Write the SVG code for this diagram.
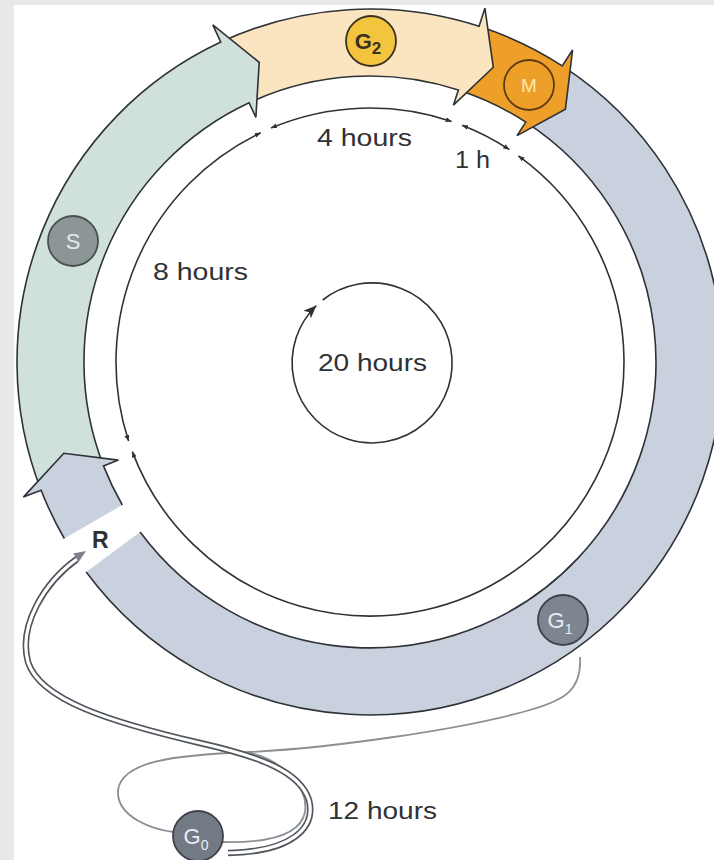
<svg xmlns="http://www.w3.org/2000/svg" width="714" height="860" viewBox="0 0 714 860">
<defs>
<style>
.band{stroke:#2e3236;stroke-width:1.6;stroke-linejoin:miter}
.tl{fill:none;stroke:#2e3236;stroke-width:1.6}
.lbl{font-family:"Liberation Sans",Arial,sans-serif;font-size:23px;fill:#2f3235}
.cl{font-family:"Liberation Sans",Arial,sans-serif;text-anchor:middle}
.thin{fill:none;stroke:#8a9096;stroke-width:1.8}
</style>
<marker id="ta" viewBox="0 0 6 5" refX="6" refY="2.5" markerWidth="6" markerHeight="5" markerUnits="userSpaceOnUse" orient="auto-start-reverse">
<path d="M0,0 L6,2.5 L0,5 z" fill="#2e3236"/>
</marker>
<marker id="ca" viewBox="0 0 12 10" refX="12" refY="5" markerWidth="13" markerHeight="11" markerUnits="userSpaceOnUse" orient="auto">
<path d="M0,0 L12,5 L0,10 L3,5 z" fill="#2e3236"/>
</marker>
</defs>
<rect width="714" height="860" fill="#e8e8e8"/>
<rect x="14" y="5" width="700" height="855" fill="#ffffff"/>

<g id="ring">
<g id="G1-band"><path class="band" fill="#c9d0de" d="M140.1,532.1 A286,286 0 1 0 525.8,122.1 L562.2,65.9 A353,353 0 1 1 86.2,572"/></g>
<g id="M-band"><path class="band" fill="#ee9f2a" d="M479.1,26.3 A353,353 0 0 1 562.2,65.9 L572.6,50 L565.4,109.2 L517,135.6 L525.8,122.1 A286,286 0 0 0 458.4,90"/></g>
<g id="G2-band"><path class="band" fill="#fbe4c0" d="M220.8,42.1 A353,353 0 0 1 479.1,26.3 L484.9,8.2 L493.3,67.3 L453.4,105.2 L458.4,90 A286,286 0 0 0 249.1,102.8"/></g>
<g id="S-band"><path class="band" fill="#cfe1da" d="M41.1,490.2 A353,353 0 0 1 220.8,42.1 L212.8,24.9 L259.2,62.3 L255.9,117.3 L249.1,102.8 A286,286 0 0 0 103.5,465.9"/></g>
<g id="R-band"><path class="band" fill="#c9d0de" d="M64.3,538.5 A353,353 0 0 1 41.1,490.2 L23.4,497.1 L63.8,453.3 L118.4,460.1 L103.5,465.9 A286,286 0 0 0 122.3,505"/></g>
</g>

<g id="connectors">
<path class="tl" marker-start="url(#ta)" marker-end="url(#ta)" d="M518.4,155.9 A254,254 0 1 1 132.3,451.6"/>
<path class="tl" marker-start="url(#ta)" marker-end="url(#ta)" d="M128.6,441.1 A254,254 0 0 1 260.8,132.7"/>
<path class="tl" marker-start="url(#ta)" marker-end="url(#ta)" d="M271,128.1 A254,254 0 0 1 451.6,121.5"/>
<path class="tl" marker-start="url(#ta)" marker-end="url(#ta)" d="M462.1,125.3 A254,254 0 0 1 509.3,149.6"/>
<path class="tl" marker-end="url(#ca)" d="M322.7,300 A80,80 0 1 1 316.4,305.5"/>
<path class="thin" d="M580,657 C582,690 565,700 530,710 C460,730 330,748 250,752 C170,755 122,762 118,790 C116,818 155,830 174,832"/>
<path class="thin" d="M222,842 C262,843 300,838 305,812 C309,785 280,760 250,753"/>
<path fill="none" stroke="#50565c" stroke-width="6.5" d="M77,559 C45,582 18,625 28,662 C40,700 110,722 200,743 C262,757 300,772 309,800 C316,828 292,852 228,853"/>
<path fill="none" stroke="#ffffff" stroke-width="3.2" d="M77,559 C45,582 18,625 28,662 C40,700 110,722 200,743 C262,757 300,772 309,800 C316,828 292,852 226,853"/>
<path d="M86,551 L78.8,561.8 L73.3,553.4 z" fill="#7b8088"/>
</g>

<g id="S"><circle cx="73" cy="241" r="25" fill="#8d9696" stroke="#4a5050" stroke-width="1.8"/><text class="cl" x="73" y="249" font-size="22" fill="#e4eaea">S</text></g>
<g id="G2"><circle cx="371" cy="41" r="25" fill="#f3c43d" stroke="#3a3020" stroke-width="1.8"/><text class="cl" x="368" y="49" font-size="22" font-weight="bold" fill="#3a3020">G<tspan font-size="17" dy="5">2</tspan></text></g>
<g id="M"><circle cx="529" cy="85" r="25" fill="#ee9f2a" stroke="#5a3a10" stroke-width="1.8"/><text class="cl" x="529" y="92" font-size="19" fill="#fbe7ae">M</text></g>
<g id="G1"><circle cx="563" cy="620" r="25" fill="#7d8591" stroke="#3d4148" stroke-width="1.8"/><text class="cl" x="560" y="628" font-size="22" fill="#e8ecf0">G<tspan font-size="14" dy="6">1</tspan></text></g>
<g id="G0"><circle cx="198" cy="836" r="25" fill="#727a86" stroke="#3d4148" stroke-width="1.8"/><text class="cl" x="196" y="844" font-size="22" fill="#e8ecf0">G<tspan font-size="14" dy="6">0</tspan></text></g>

<g id="labels">
<text class="lbl" x="317" y="146" textLength="95" lengthAdjust="spacingAndGlyphs">4 hours</text>
<text class="lbl" x="455" y="168" textLength="35" lengthAdjust="spacingAndGlyphs">1 h</text>
<text class="lbl" x="153" y="280" textLength="95" lengthAdjust="spacingAndGlyphs">8 hours</text>
<text class="lbl" x="318" y="371" textLength="109" lengthAdjust="spacingAndGlyphs">20 hours</text>
<text class="lbl" x="328" y="819" textLength="109" lengthAdjust="spacingAndGlyphs">12 hours</text>
<text class="lbl" x="92" y="548" font-weight="bold">R</text>
</g>
</svg>
